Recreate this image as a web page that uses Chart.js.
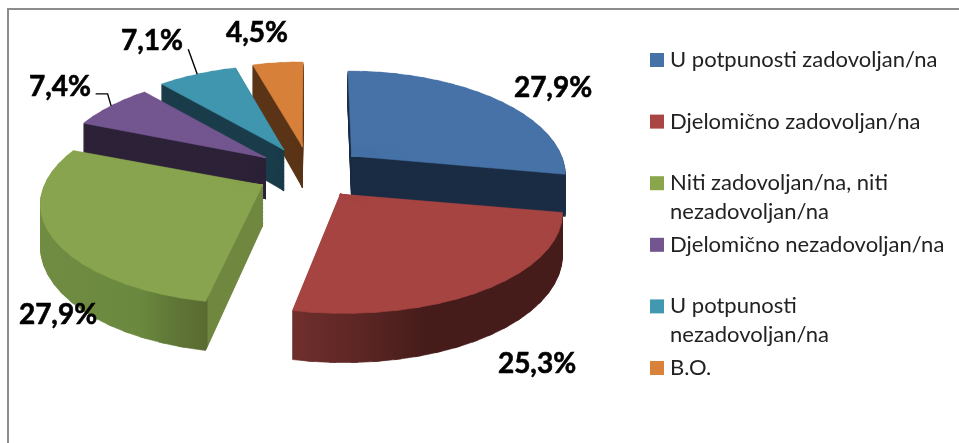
<!DOCTYPE html>
<html>
<head>
<meta charset="utf-8">
<style>html,body{margin:0;padding:0;background:#fff}canvas{display:block}</style>
<script src="https://cdn.jsdelivr.net/npm/chart.js@4"></script>
</head>
<body>
<canvas id="c" width="959" height="443"></canvas>
<script>
// ---- data ----
const categories = [
  ['U potpunosti zadovoljan/na'],
  ['Djelomično zadovoljan/na'],
  ['Niti zadovoljan/na, niti', 'nezadovoljan/na'],
  ['Djelomično nezadovoljan/na'],
  ['U potpunosti', 'nezadovoljan/na'],
  ['B.O.']
];
const values = [27.9, 25.3, 27.9, 7.4, 7.1, 4.5];

// ---- styles ----
const topColors  = ['#4672a8', '#a64442', '#88a44e', '#73568f', '#3f96ae', '#d68039'];
const wallColors = ['#1b2d44', '#461c1a', '#70873f', '#2d2238', '#1b3d4b', '#5b3517'];
const legendColors = ['#4672a8', '#a94543', '#8aa64d', '#73568f', '#4298b0', '#da8239'];
const wallShades = {
  1: [[297, '#6e2e2c'], [360, '#5c2624'], [425, '#461c1a'], [565, '#461c1a']],
  2: [[40, '#708c43'], [140, '#6a893e'], [175, '#5f7636'], [207, '#5a6b31'], [208, '#70873f'], [270, '#70873f']]
};
const paintOrder = [5, 4, 3, 0, 2, 1];

// ---- 3D view ----
const view = { cx: 310, cy: 172.6, explodeX: 54, explodeY: 26, radius: 210, persp: 0.168, squash: 0.472, depth: 41, lateral: 0.6, frontGrow: 0.04 };
const labelCenters = [[553, 88], [537, 364], [58, 315], [60, 87], [152, 41], [257, 33]];
const leaders = { 3: [[-3.5, -12], [-15.5, -12]], 4: [[-9, -25]] };
const legendBox = { x: 650, y: 53, size: 14, textX: 670, step: 61.6, lineH: 29, font: '22px Lato, Carlito, sans-serif' };

const STEP = 5 * Math.PI / 180, OVER = 1.5 * Math.PI / 180;
const scaleAt = th => view.radius / (1 + view.persp * Math.cos(th));
const depthAt = th => view.depth * scaleAt(th) / view.radius;

function apexOf(arc) {
  const m = (arc.startAngle + arc.endAngle) / 2 + Math.PI / 2;
  return [view.cx + view.explodeX * Math.sin(m), view.cy - view.explodeY * Math.cos(m)];
}
function rimOffset(arc, th) {
  const s = scaleAt(th), m = (arc.startAngle + arc.endAngle) / 2 + Math.PI / 2;
  const grow = 1 + view.frontGrow * Math.max(0, Math.min(1, -2 * Math.cos(m)));
  const side = (apexOf(arc)[0] - view.cx) * (s / view.radius - 1) * view.lateral;
  return [grow * s * Math.sin(th) + side, -view.squash * s * Math.cos(th)];
}

function drawWedges(ctx, arc, color, t) {
  const apex = apexOf(arc), R = arc.outerRadius;
  const n = Math.max(1, Math.ceil((arc.endAngle - arc.startAngle) / STEP));
  const da = (arc.endAngle - arc.startAngle) / n;
  const opts = Object.assign({}, arc.options, { backgroundColor: color, borderColor: color, borderWidth: 0.7, offset: 0, spacing: 0 });
  for (let i = 0; i < n; i++) {
    const a1 = arc.startAngle + i * da, a2 = a1 + da;
    const th1 = a1 + Math.PI / 2, th2 = a2 + Math.PI / 2;
    const o1 = rimOffset(arc, th1), o2 = rimOffset(arc, th2);
    const dz = view.depth * t;
    const sx = o1[0], sy = o1[1] + (depthAt(th1) * t - dz);
    const ex = o2[0], ey = o2[1] + (depthAt(th2) * t - dz);
    const lsx = R * Math.cos(a1), lsy = R * Math.sin(a1), lex = R * Math.cos(a2), ley = R * Math.sin(a2);
    const det = lsx * ley - lex * lsy;
    const m00 = (sx * ley - ex * lsy) / det, m01 = (ex * lsx - sx * lex) / det;
    const m10 = (sy * ley - ey * lsy) / det, m11 = (ey * lsx - sy * lex) / det;
    const ax = apex[0], ay = apex[1] + dz;
    ctx.save();
    ctx.setTransform(m00, m10, m01, m11, ax - m00 * arc.x - m01 * arc.y, ay - m10 * arc.x - m11 * arc.y);
    const piece = Object.create(arc);
    piece.startAngle = a1;
    piece.endAngle = Math.min(a2 + OVER, arc.endAngle);
    piece.circumference = piece.endAngle - piece.startAngle;
    piece.options = opts;
    piece.draw(ctx);
    ctx.restore();
  }
}

const pie3d = {
  id: 'pie3d',
  beforeDraw(chart) {
    const ctx = chart.ctx;
    ctx.save();
    ctx.strokeStyle = '#8c8c8c';
    ctx.lineWidth = 2;
    ctx.beginPath();
    ctx.moveTo(8, chart.height);
    ctx.lineTo(8, 9);
    ctx.lineTo(chart.width, 9);
    ctx.stroke();
    ctx.restore();
  },
  beforeDatasetsDraw(chart) {
    const ctx = chart.ctx, arcs = chart.getDatasetMeta(0).data;
    const off = document.createElement('canvas');
    off.width = chart.width; off.height = chart.height;
    const octx = off.getContext('2d');
    paintOrder.forEach(i => {
      const arc = arcs[i];
      octx.setTransform(1, 0, 0, 1, 0, 0);
      octx.globalCompositeOperation = 'source-over';
      octx.clearRect(0, 0, off.width, off.height);
      const layers = 52;
      for (let k = layers; k >= 1; k--) drawWedges(octx, arc, wallColors[i], k / layers);
      if (wallShades[i]) {
        const st = wallShades[i], x0 = st[0][0], x1 = st[st.length - 1][0];
        const g = octx.createLinearGradient(x0, 0, x1, 0);
        st.forEach(p => g.addColorStop((p[0] - x0) / (x1 - x0), p[1]));
        octx.globalCompositeOperation = 'source-atop';
        octx.fillStyle = g;
        octx.fillRect(0, 0, off.width, off.height);
      }
      ctx.drawImage(off, 0, 0);
      drawWedges(ctx, arc, topColors[i], 0);
    });
    return false;
  },
  afterDraw(chart) {
    const ctx = chart.ctx, arcs = chart.getDatasetMeta(0).data;
    ctx.save();
    // leader lines
    ctx.strokeStyle = '#000';
    ctx.lineWidth = 1.4;
    Object.keys(leaders).forEach(k => {
      const arc = arcs[k], apex = apexOf(arc);
      const o = rimOffset(arc, (arc.startAngle + arc.endAngle) / 2 + Math.PI / 2);
      const x = apex[0] + o[0], y = apex[1] + o[1];
      ctx.beginPath();
      ctx.moveTo(x, y);
      leaders[k].forEach(p => ctx.lineTo(x + p[0], y + p[1]));
      ctx.stroke();
    });
    // data labels
    ctx.fillStyle = '#000';
    ctx.strokeStyle = '#000';
    ctx.lineWidth = 0.6;
    ctx.font = 'bold 28px Lato, Carlito, sans-serif';
    ctx.textAlign = 'center';
    ctx.textBaseline = 'middle';
    values.forEach((v, i) => {
      const t = v.toFixed(1).replace('.', ',') + '%';
      ctx.fillText(t, labelCenters[i][0], labelCenters[i][1]);
      ctx.strokeText(t, labelCenters[i][0], labelCenters[i][1]);
    });
    // legend
    ctx.font = legendBox.font;
    ctx.textAlign = 'left';
    ctx.textBaseline = 'alphabetic';
    categories.forEach((lines, i) => {
      const y = legendBox.y + i * legendBox.step;
      ctx.fillStyle = legendColors[i];
      ctx.fillRect(legendBox.x, y, legendBox.size, legendBox.size);
      ctx.fillStyle = '#222';
      lines.forEach((t, j) => ctx.fillText(t, legendBox.textX, y + legendBox.size + j * legendBox.lineH));
    });
    ctx.restore();
  }
};

new Chart(document.getElementById('c'), {
  type: 'pie',
  data: {
    labels: categories.map(l => l.join(' ')),
    datasets: [{ data: values, backgroundColor: topColors, borderWidth: 0 }]
  },
  options: {
    responsive: false,
    animation: false,
    events: [],
    plugins: { legend: { display: false }, tooltip: { enabled: false } }
  },
  plugins: [pie3d]
});
</script>
</body>
</html>
